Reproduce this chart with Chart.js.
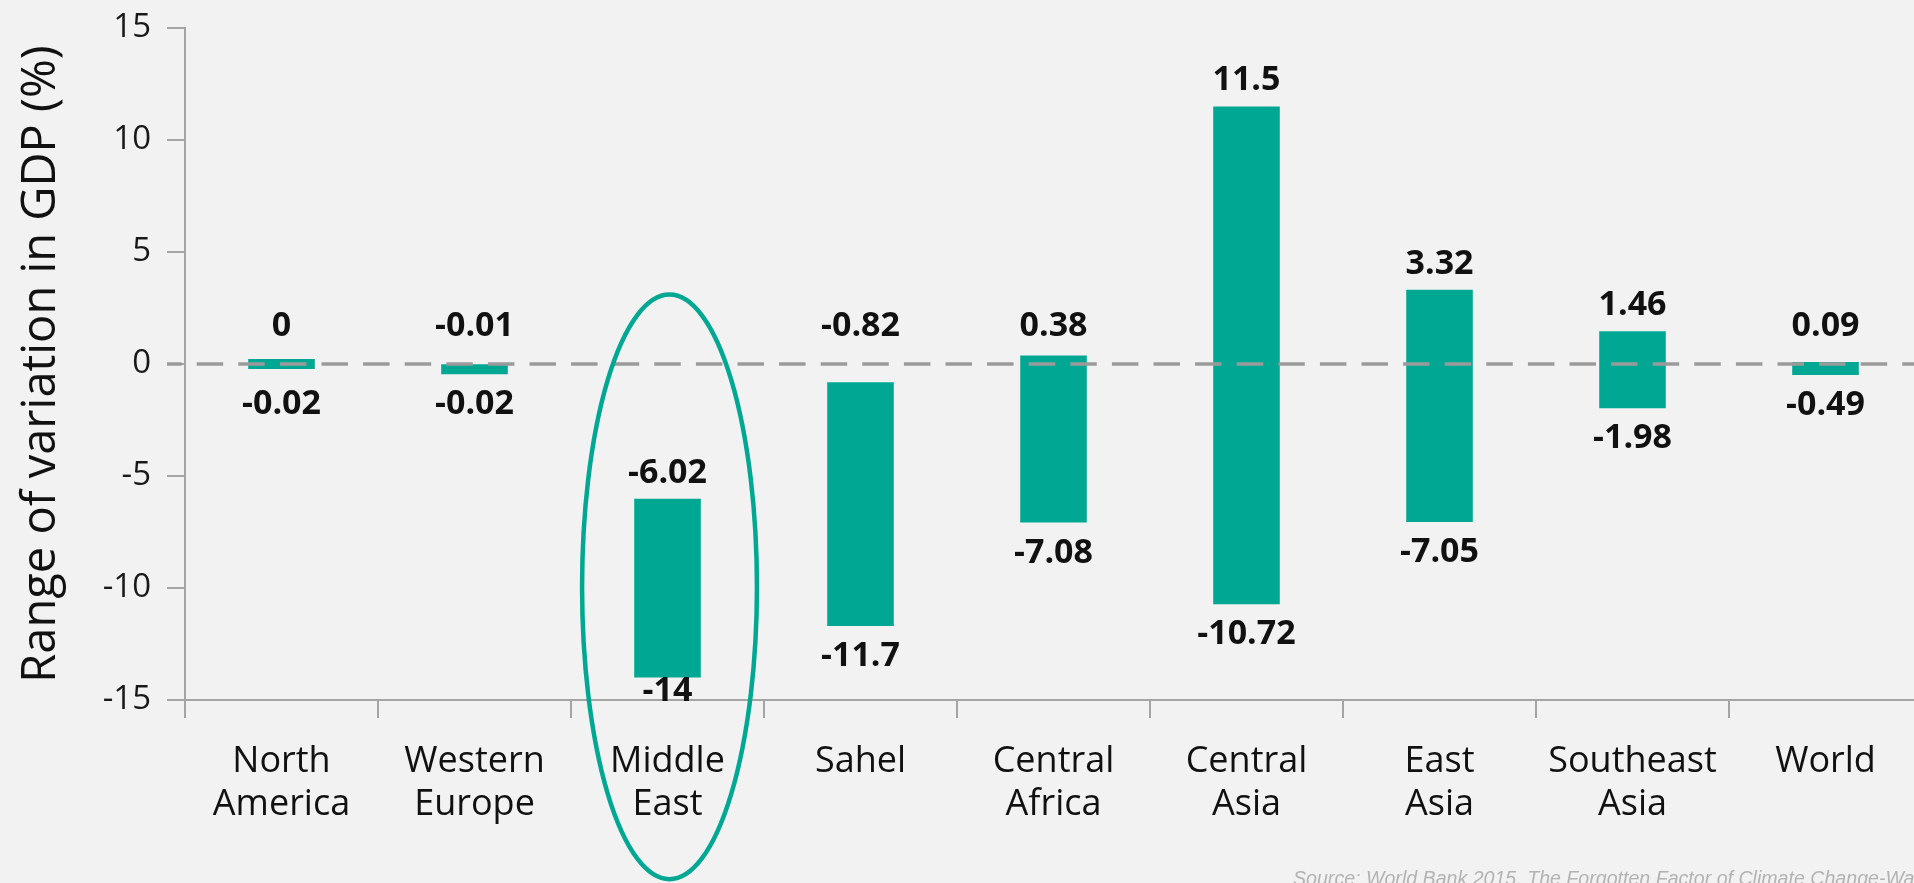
<!DOCTYPE html>
<html>
<head>
<meta charset="utf-8">
<title>Range of variation in GDP</title>
<script src="https://cdn.jsdelivr.net/npm/chart.js@4.4.0/dist/chart.umd.min.js"></script>
<style>
  html, body { margin: 0; padding: 0; background: #f2f2f2; overflow: hidden; }
  #wrap { position: relative; width: 1930px; height: 883px; }
  #source {
    position: absolute; left: 1293px; top: 867px;
    font: italic 19.6px "Liberation Sans", Arial, sans-serif;
    color: #b3b3b3; white-space: nowrap;
  }
</style>
</head>
<body>
<div id="wrap">
  <canvas id="gdpChart"></canvas>
  <div id="source">Source: World Bank 2015, The Forgotten Factor of Climate Change-Water Scarcity</div>
</div>
<script>
// chart data
const regions = [
  ['North', 'America'], ['Western', 'Europe'], ['Middle', 'East'], ['Sahel'],
  ['Central', 'Africa'], ['Central', 'Asia'], ['East', 'Asia'], ['Southeast', 'Asia'], ['World']
];
const highValues = [0, -0.01, -6.02, -0.82, 0.38, 11.5, 3.32, 1.46, 0.09];
const lowValues = [-0.02, -0.02, -14, -11.7, -7.08, -10.72, -7.05, -1.98, -0.49];
const yTicks = [-15, -10, -5, 0, 5, 10, 15];
const highlightIndex = 2; // Middle East gets circled

const teal = '#00a894';
const axisGrey = '#a4a4a4';

Chart.defaults.font.family = '"Open Sans", sans-serif';
Chart.defaults.color = '#1a1a1a';

// value labels above and below each bar, kept clear of the zero line
const rangeLabels = {
  id: 'rangeLabels',
  afterDatasetsDraw(chart) {
    const { ctx, chartArea, scales: { y } } = chart;
    const zero = y.getPixelForValue(0);
    const meta = chart.getDatasetMeta(0);
    ctx.save();
    ctx.font = '700 34px "Open Sans", sans-serif';
    ctx.fillStyle = '#111';
    ctx.textAlign = 'center';
    ctx.textBaseline = 'alphabetic';
    meta.data.forEach((bar, i) => {
      const top = Math.min(bar.y, bar.base);
      const bottom = Math.max(bar.y, bar.base);
      let topY = top - 16;
      if (Math.abs(top - zero) < 40) topY = Math.min(topY, zero - 28);
      let botY = bottom + 40;
      if (Math.abs(bottom - zero) < 40) botY = Math.max(botY, zero + 50);
      botY = Math.min(botY, chartArea.bottom + 1);
      ctx.fillText(String(highValues[i]), bar.x, topY);
      ctx.fillText(String(lowValues[i]), bar.x, botY);
    });
    ctx.restore();
  }
};

// dashed zero line, drawn over the bars
const zeroLine = {
  id: 'zeroLine',
  afterDatasetsDraw(chart) {
    const { ctx, chartArea, scales: { y } } = chart;
    const py = y.getPixelForValue(0);
    ctx.save();
    ctx.strokeStyle = '#9a9a9a';
    ctx.lineWidth = 3.5;
    ctx.setLineDash([26.5, 15.1]);
    ctx.lineDashOffset = 11.9;
    ctx.beginPath();
    ctx.moveTo(chartArea.left - 18, py);
    ctx.lineTo(chartArea.right, py);
    ctx.stroke();
    ctx.restore();
  }
};

// outline ring around the highlighted region
const highlightRing = {
  id: 'highlightRing',
  afterDraw(chart) {
    const { ctx, scales: { x, y } } = chart;
    const cx = x.getPixelForValue(highlightIndex) + 2;
    const catW = x.getPixelForValue(1) - x.getPixelForValue(0);
    const top = y.getPixelForValue(3.1);
    const bottom = y.getPixelForValue(-23);
    ctx.save();
    ctx.strokeStyle = teal;
    ctx.lineWidth = 4.5;
    ctx.beginPath();
    ctx.ellipse(cx, (top + bottom) / 2, catW * 0.453, (bottom - top) / 2, 0, 0, Math.PI * 2);
    ctx.stroke();
    ctx.restore();
  }
};

new Chart(document.getElementById('gdpChart'), {
  type: 'bar',
  data: {
    labels: regions,
    datasets: [{
      data: regions.map((_, i) => [highValues[i], lowValues[i]]),
      backgroundColor: teal,
      borderWidth: 0,
      barPercentage: 0.345,
      categoryPercentage: 1,
      minBarLength: 10
    }]
  },
  options: {
    responsive: true,
    maintainAspectRatio: false,
    animation: false,
    layout: { padding: { top: 28, right: 8, bottom: 0, left: 0 } },
    plugins: {
      legend: { display: false },
      tooltip: { enabled: false }
    },
    scales: {
      x: {
        afterFit(scale) { scale.height = 183; },
        grid: { drawOnChartArea: false, drawTicks: true, tickLength: 18, color: axisGrey, lineWidth: 2 },
        border: { color: axisGrey, width: 2 },
        ticks: {
          padding: 22,
          maxRotation: 0,
          font: { size: 36, lineHeight: 1.2 },
          color: '#111'
        }
      },
      y: {
        min: -15,
        max: 15,
        afterFit(scale) {
          scale.width = 185;
          scale.paddingTop = 0;
          scale.paddingBottom = 0;
        },
        afterBuildTicks(scale) { scale.ticks = yTicks.map(v => ({ value: v })); },
        grid: { drawOnChartArea: false, drawTicks: true, tickLength: 18, color: axisGrey, lineWidth: 2 },
        border: { color: axisGrey, width: 2 },
        ticks: {
          padding: 16,
          font: { size: 33 },
          color: '#1a1a1a'
        },
        title: {
          display: true,
          text: 'Range of variation in GDP (%)',
          font: { size: 47, weight: '500' },
          color: '#111',
          padding: { top: 13, bottom: 0 }
        }
      }
    }
  },
  plugins: [rangeLabels, zeroLine, highlightRing]
});
</script>
</body>
</html>
